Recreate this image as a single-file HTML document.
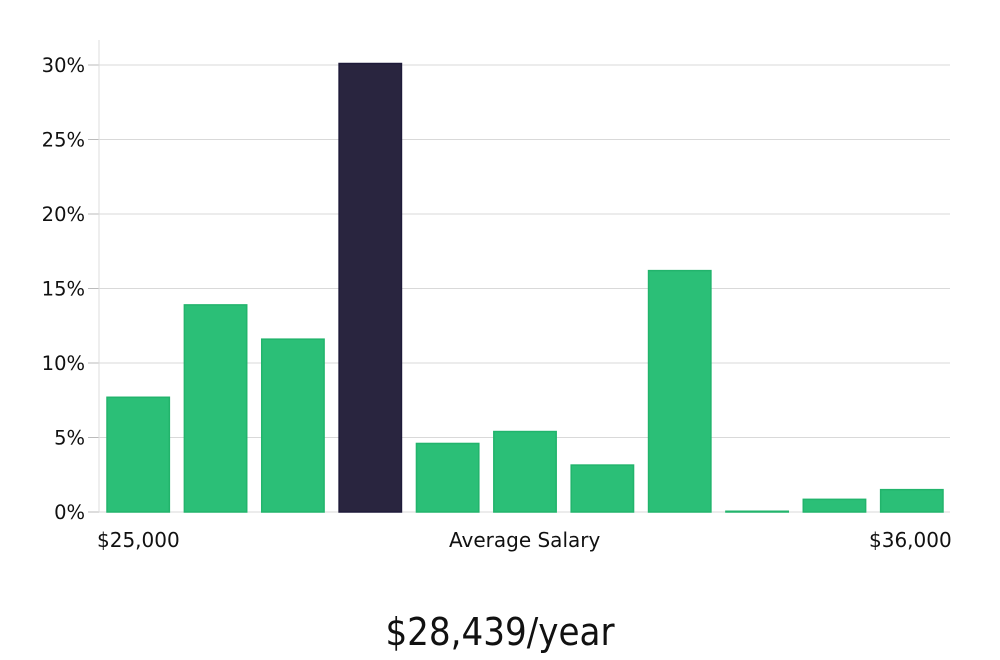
<!DOCTYPE html>
<html><head><meta charset="utf-8"><style>
body{margin:0;background:#fff;width:1000px;height:660px;overflow:hidden}
svg{display:block}
text{font-family:"DejaVu Sans","Liberation Sans",sans-serif;fill:#111}
</style></head><body>
<svg id="c" width="1000" height="660"></svg>
<script>
const categories=["b1","b2","b3","b4","b5","b6","b7","b8","b9","b10","b11"];
const values=[7.7,13.9,11.6,30.1,4.6,5.4,3.15,16.2,0.05,0.85,1.5];
const highlight=[false,false,false,true,false,false,false,false,false,false,false];
const yTicks=[0,5,10,15,20,25,30];
const yTickLabels=["0%","5%","10%","15%","20%","25%","30%"];
const ns="http://www.w3.org/2000/svg";
const svg=document.getElementById('c');
const X0=99,X1=950,Y0=512,PX=74.5/5;
const y=v=>Y0-v*PX;
const step=(X1-X0)/categories.length;
const x=i=>X0+i*step+8;
function mk(t,a,p){const e=document.createElementNS(ns,t);for(const k in a)e.setAttribute(k,a[k]);(p||svg).appendChild(e);return e;}
yTicks.forEach((t,i)=>{
 const g=mk('line',{x1:X0,x2:X1,y1:y(t),y2:y(t),stroke:'#d9d9d9','stroke-width':1});
 
 
 const tk=mk('line',{x1:88,x2:X0,y1:y(t),y2:y(t),stroke:'#bbb','stroke-width':1});
 
 
 const l=mk('text',{x:85,y:y(t)+7,'text-anchor':'end','font-size':19.5});
 l.textContent=yTickLabels[i];
 
 
});
const ax=mk('line',{x1:X0,x2:X0,y1:40,y2:Y0,stroke:'#ddd','stroke-width':1});


values.forEach((v,i)=>{
 const h=highlight[i];
 const r=mk('rect',{x:x(i),y:y(v),width:step-15,height:Y0-y(v),fill:h?'#29253f':'#2bbf77',stroke:h?'#1e1a3a':'#22b46c','stroke-width':1.5});
 
 
});
</script>
<div style="position:absolute;left:0;top:0;width:1000px;height:660px;pointer-events:none">
<div style="position:absolute;left:97px;top:528px;font:20px 'DejaVu Sans',sans-serif;color:#111">$25,000</div>
<div style="position:absolute;left:449px;top:528px;font:20px 'DejaVu Sans',sans-serif;color:#111">Average Salary</div>
<div style="position:absolute;left:869px;top:528px;font:20px 'DejaVu Sans',sans-serif;color:#111">$36,000</div>
<div style="position:absolute;left:0;width:1000px;text-align:center;top:610px;font:38px 'Liberation Sans Narrow','DejaVu Sans Condensed','Liberation Sans',sans-serif;color:#111">$28,439/year</div>
</div>
</body></html>
